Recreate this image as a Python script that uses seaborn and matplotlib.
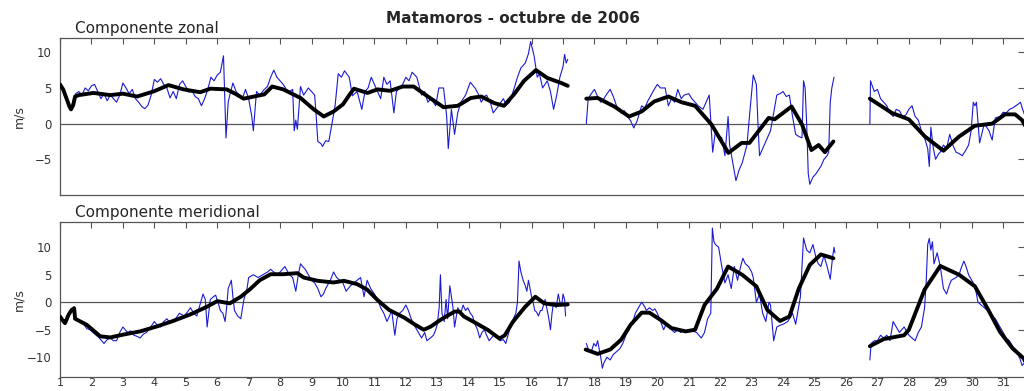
import numpy as np
import pandas as pd
import seaborn as sns
import matplotlib.pyplot as plt

# componente zonal (u), serie cruda
u_dia = [1.0, 1.1, 1.2, 1.3, 1.35, 1.4, 1.5, 1.6, 1.7, 1.8, 1.9, 2.0, 2.1, 2.2, 2.3, 2.4, 2.5, 2.6, 2.7, 2.8, 2.9,
         3.0, 3.1, 3.2, 3.3, 3.4, 3.5, 3.6, 3.7, 3.8, 3.9, 4.0, 4.1, 4.2, 4.3, 4.4, 4.5, 4.6, 4.7, 4.8, 4.9,
         5.0, 5.1, 5.2, 5.3, 5.4, 5.5, 5.6, 5.7, 5.8, 5.9, 6.0, 6.1, 6.2, 6.25, 6.28, 6.35, 6.4, 6.5, 6.6, 6.7,
         6.8, 6.9, 7.0, 7.1, 7.15, 7.25, 7.35, 7.5, 7.6, 7.7, 7.8, 7.9, 8.0, 8.1, 8.2, 8.3, 8.4, 8.45, 8.5, 8.55,
         8.65, 8.75, 8.9, 9.0, 9.1, 9.15, 9.2, 9.3, 9.35, 9.45, 9.55, 9.65, 9.75, 9.85, 9.95, 10.05, 10.2, 10.3,
         10.45, 10.6, 10.7, 10.8, 10.9, 11.05, 11.2, 11.3, 11.4, 11.5, 11.62, 11.7, 11.8, 11.9, 12.0, 12.1, 12.2,
         12.35, 12.5, 12.6, 12.7, 12.8, 12.95, 13.05, 13.2, 13.3, 13.35, 13.45, 13.55, 13.65, 13.75, 13.9, 14.05,
         14.2, 14.3, 14.4, 14.5, 14.57, 14.7, 14.78, 14.95, 15.1, 15.2, 15.3, 15.45, 15.55, 15.66, 15.8, 15.9,
         15.97, 16.08, 16.18, 16.25, 16.35, 16.5, 16.6, 16.7, 16.8, 16.9, 17.0, 17.05, 17.1, 17.15,
         17.74, 17.8, 17.9, 18.0, 18.1, 18.2, 18.3, 18.4, 18.5, 18.6, 18.7, 18.85, 18.95, 19.05, 19.15, 19.25,
         19.35, 19.5, 19.6, 19.7, 19.8, 19.9, 20.0, 20.1, 20.25, 20.35, 20.45, 20.55, 20.65, 20.76, 20.85, 21.0,
         21.1, 21.2, 21.3, 21.45, 21.55, 21.65, 21.76, 21.85, 21.9, 22.05, 22.15, 22.25, 22.3, 22.38, 22.5, 22.6,
         22.7, 22.85, 22.95, 23.05, 23.15, 23.2, 23.25, 23.35, 23.45, 23.6, 23.7, 23.8, 23.9, 24.0, 24.1, 24.2,
         24.3, 24.4, 24.5, 24.6, 24.65, 24.7, 24.75, 24.8, 24.85, 24.95, 25.05, 25.2, 25.3, 25.4, 25.45, 25.5,
         25.55, 25.62,
         26.76, 26.78, 26.9, 27.0, 27.1, 27.2, 27.3, 27.4, 27.5, 27.6, 27.7, 27.8, 27.9, 28.0, 28.1, 28.2, 28.3,
         28.4, 28.5, 28.6, 28.65, 28.7, 28.78, 28.85, 28.95, 29.0, 29.1, 29.2, 29.3, 29.4, 29.5, 29.6, 29.7, 29.8,
         29.9, 29.98, 30.05, 30.1, 30.15, 30.25, 30.4, 30.55, 30.65, 30.75, 30.9, 31.0, 31.1, 31.2, 31.3, 31.4,
         31.5, 31.55, 31.62, 31.7, 31.75]
u_val = [5.5, 4.8, 3.5, 2.2, 2.0, 3.0, 4.2, 4.5, 4.0, 5.0, 4.6, 5.3, 5.5, 4.5, 3.5, 4.2, 3.2, 4.0, 3.5, 3.0, 4.0,
         5.7, 5.0, 4.2, 4.8, 3.5, 3.0, 2.4, 2.1, 2.6, 4.0, 6.2, 5.8, 6.3, 5.5, 5.0, 3.6, 4.5, 3.5, 5.5, 6.0,
         5.2, 4.4, 4.6, 3.8, 3.5, 2.5, 3.5, 4.8, 6.5, 6.0, 6.8, 7.2, 9.5, 2.0, -2.0, 3.0, 4.0, 5.7, 4.5, 4.0,
         3.5, 4.8, 3.5, 1.0, -1.0, 4.5, 4.0, 4.8, 5.2, 6.5, 7.5, 6.5, 6.0, 5.5, 4.8, 4.5, 4.8, -1.0, 0.5, -0.8,
         5.2, 4.0, 5.0, 4.5, 4.0, 1.0, -2.5, -2.8, -3.2, -2.4, -2.5, 0.0, 2.5, 7.0, 6.5, 7.4, 6.5, 3.9,
         4.5, 2.0, 4.5, 5.0, 6.5, 5.0, 3.5, 6.5, 5.5, 6.0, 1.5, 4.5, 5.0, 5.5, 6.5, 6.0, 7.2,
         6.5, 4.0, 4.5, 3.0, 3.5, 2.5, 5.0, 5.0, 1.0, -3.5, 2.0, -1.5, 1.5, 3.0, 4.0, 5.8,
         5.0, 4.2, 3.0, 3.8, 4.0, 2.8, 1.5, 2.5, 3.5, 2.6, 3.0, 5.0, 6.5, 7.8, 8.5, 9.8,
         11.5, 9.5, 6.5, 7.0, 5.0, 6.0, 4.5, 2.0, 4.0, 6.5, 8.0, 9.7, 8.5, 9.0,
         0.0, 3.5, 4.2, 4.8, 3.8, 3.0, 3.5, 4.2, 4.8, 3.8, 2.5, 1.5, 1.8, 1.0, 0.4, -0.6,
         0.3, 2.5, 2.2, 3.2, 4.0, 4.8, 5.5, 5.0, 5.0, 2.5, 3.5, 3.0, 4.8, 3.5, 4.0, 4.2,
         3.5, 3.0, 2.5, 2.0, 3.0, 4.0, -4.0, -1.0, -1.5, -2.0, -4.5, 1.0, -3.0, -5.0, -8.0, -6.5,
         -5.5, -3.0, 2.0, 6.8, 5.5, 0.0, -4.5, -3.5, -2.5, -1.0, 1.5, 4.0, 4.2, 4.5, 3.8, 4.0,
         1.0, -1.5, -1.8, -2.0, 6.0, 5.0, 0.0, -7.0, -8.5, -7.5, -7.0, -6.0, -5.0, -4.5, -4.0, 3.0,
         5.0, 6.5,
         0.0, 6.0, 4.5, 4.8, 3.5, 3.0, 2.5, 1.5, 1.0, 2.0, 1.8, 1.0, 1.2, 2.0, 2.5, 1.0, 0.5,
         -1.0, -2.0, -3.5, -6.0, -0.5, -3.5, -5.0, -4.2, -4.0, -3.0, -3.5, -1.5, -3.0, -4.0, -4.2, -4.5, -3.8,
         -3.0, -1.0, 3.0, 2.5, 3.0, -2.7, 0.0, -1.0, -2.3, 0.8, 1.0, 1.6, 1.5, 2.0, 2.2, 2.5,
         2.8, 3.0, 2.0, 1.0, -0.5]

# componente zonal, serie filtrada
uf_dia = [1.0, 1.1, 1.2, 1.3, 1.35, 1.42, 1.48, 1.6, 2.06, 2.6, 3.0, 3.45, 3.97, 4.45, 4.93, 5.46, 5.78, 6.3,
          6.57, 6.84, 7.17, 7.5, 7.75, 8.1, 8.65, 9.07, 9.39, 9.7, 10.0, 10.2, 10.35, 10.78, 11.1, 11.5, 11.9,
          12.25, 12.7, 13.2, 13.65, 14.07, 14.4, 14.8, 15.12, 15.44, 15.76, 16.14, 16.5, 16.94, 17.15,
          17.74, 18.1, 18.63, 19.1, 19.5, 19.9, 20.35, 20.77, 21.2, 21.72, 22.26, 22.68, 22.93, 23.54, 23.73,
          24.27, 24.6, 24.9, 25.13, 25.33, 25.6,
          26.76, 27.46, 28.0, 28.51, 29.1, 29.6, 30.1, 30.65, 31.06, 31.38, 31.6, 31.7]
uf_val = [5.5, 4.8, 3.6, 2.4, 2.0, 2.6, 3.8, 4.0, 4.3, 4.0, 4.2, 3.8, 4.5, 5.4, 4.8, 4.4, 4.9, 4.8,
          4.2, 3.5, 3.8, 4.1, 5.2, 4.8, 3.6, 2.0, 1.0, 1.7, 2.7, 4.0, 4.9, 4.3, 4.8, 4.6, 5.2,
          5.2, 3.8, 2.3, 2.5, 3.6, 3.8, 2.9, 2.5, 4.1, 6.0, 7.5, 6.4, 5.7, 5.3,
          3.5, 3.6, 2.4, 1.0, 1.7, 3.1, 3.8, 3.0, 2.5, -0.1, -4.1, -2.7, -2.7, 0.8, 0.6,
          2.4, -0.1, -3.7, -3.0, -4.0, -2.5,
          3.5, 1.5, 0.6, -1.8, -3.8, -1.8, -0.3, 0.0, 1.3, 1.3, 0.5, -0.3]

# componente meridional (v), serie cruda
v_dia = [1.0, 1.1, 1.16, 1.27, 1.37, 1.45, 1.5, 1.6, 1.75, 1.85, 1.95, 2.05, 2.15, 2.25, 2.4, 2.5, 2.6, 2.7,
         2.8, 2.9, 3.0, 3.15, 3.25, 3.35, 3.45, 3.55, 3.65, 3.75, 3.85, 4.0, 4.1, 4.2, 4.3, 4.4, 4.5, 4.6, 4.7,
         4.8, 4.95, 5.05, 5.15, 5.25, 5.35, 5.45, 5.55, 5.62, 5.68, 5.78, 5.88, 5.95, 6.05, 6.1, 6.18, 6.25,
         6.3, 6.35, 6.45, 6.5, 6.55, 6.65, 6.75, 6.85, 6.95, 7.0, 7.15, 7.3, 7.45, 7.6, 7.7, 7.8, 7.9, 8.0,
         8.15, 8.3, 8.4, 8.5, 8.58, 8.65, 8.72, 8.8, 8.9, 9.0, 9.1, 9.2, 9.3, 9.38, 9.45, 9.55, 9.6, 9.7, 9.8,
         9.9, 10.0, 10.1, 10.24, 10.35, 10.45, 10.56, 10.67, 10.77, 10.88, 11.0, 11.1, 11.2, 11.3, 11.4, 11.48,
         11.55, 11.65, 11.72, 11.8, 11.9, 12.0, 12.08, 12.17, 12.25, 12.35, 12.45, 12.5, 12.6, 12.67, 12.78,
         12.88, 12.95, 13.0, 13.06, 13.1, 13.13, 13.15, 13.22, 13.28, 13.33, 13.4, 13.45, 13.5, 13.55, 13.65,
         13.75, 13.82, 13.9, 13.97, 14.05, 14.12, 14.2, 14.28, 14.35, 14.42, 14.5, 14.57, 14.65, 14.72, 14.8,
         14.9, 15.0, 15.1, 15.18, 15.25, 15.35, 15.42, 15.5, 15.55, 15.6, 15.66, 15.73, 15.8, 15.85, 15.9,
         15.95, 16.0, 16.05, 16.1, 16.16, 16.22, 16.28, 16.33, 16.43, 16.5, 16.55, 16.6, 16.65, 16.7, 16.78,
         16.85, 16.9, 16.96, 17.0, 17.05, 17.08,
         17.74, 17.8, 17.9, 17.98, 18.05, 18.1, 18.15, 18.2, 18.25, 18.3, 18.4, 18.5, 18.6, 18.7, 18.8, 18.9,
         19.0, 19.1, 19.15, 19.25, 19.3, 19.4, 19.5, 19.6, 19.65, 19.75, 19.85, 19.92, 20.0, 20.1, 20.2, 20.28,
         20.35, 20.45, 20.55, 20.65, 20.75, 20.85, 20.95, 21.05, 21.15, 21.25, 21.32, 21.4, 21.5, 21.6, 21.7,
         21.75, 21.8, 21.85, 21.95, 22.05, 22.15, 22.25, 22.35, 22.45, 22.55, 22.65, 22.72, 22.8, 22.9, 23.0,
         23.05, 23.15, 23.25, 23.35, 23.45, 23.55, 23.6, 23.7, 23.8, 23.9, 24.0, 24.15, 24.3, 24.4, 24.55,
         24.65, 24.75, 24.85, 24.95, 25.05, 25.12, 25.2, 25.3, 25.4, 25.5, 25.57, 25.62, 25.65,
         26.76, 26.8, 26.9, 27.0, 27.1, 27.2, 27.3, 27.4, 27.5, 27.6, 27.7, 27.85, 28.0, 28.1, 28.2, 28.3,
         28.4, 28.5, 28.55, 28.6, 28.65, 28.7, 28.75, 28.8, 28.9, 29.0, 29.1, 29.2, 29.28, 29.35, 29.5, 29.6,
         29.65, 29.75, 29.82, 29.9, 30.0, 30.1, 30.2, 30.3, 30.4, 30.5, 30.55, 30.65, 30.75, 30.85, 31.0,
         31.1, 31.2, 31.3, 31.45, 31.52, 31.6, 31.68, 31.75]
v_val = [-2.5, -3.5, -4.0, -2.3, -1.4, -0.8, -3.0, -3.2, -4.0, -4.8, -5.0, -5.5, -6.0, -6.5, -7.5, -6.8, -6.5, -7.0,
         -7.0, -5.5, -4.5, -5.5, -5.2, -6.0, -6.2, -6.5, -5.8, -5.5, -4.8, -3.5, -4.2, -4.5, -3.5, -3.0, -3.8, -3.5, -2.8,
         -2.0, -2.5, -1.8, -1.0, -2.0, -2.5, -0.5, 1.5, 0.5, -4.5, 0.5, 1.0, 1.3, -0.5, -1.5, -2.0, -3.5,
         -1.0, 2.5, 4.0, 1.0, -1.5, -2.5, -3.0, 0.5, 2.5, 4.5, 5.0, 4.5, 5.0, 5.5, 6.0, 5.5, 5.0, 5.5,
         6.5, 5.0, 4.5, 2.0, 5.0, 7.0, 6.5, 6.0, 5.0, 4.0, 3.5, 2.5, 1.0, 1.5, 2.5, 3.5, 4.0, 5.5, 4.5,
         4.0, 3.5, 2.0, 3.0, 3.5, 4.0, 4.5, 1.0, 4.0, 2.5, 1.5, 0.5, -1.0, -2.0, -3.5, -2.5,
         -1.5, -6.0, -3.0, -2.0, -1.5, -0.5, -1.5, -3.0, -4.0, -5.0, -6.0, -6.5, -5.5, -7.0, -6.5,
         -6.0, -5.0, -4.0, -1.0, 5.0, 1.0, -2.0, -3.5, 0.5, -3.0, 3.0, 1.0, -1.0, -4.5, -1.0,
         -2.0, -0.5, -1.5, -1.0, -2.0, -2.5, -4.0, -5.0, -6.5, -5.5, -5.0, -6.0, -7.0, -6.5, -6.0,
         -6.5, -7.0, -6.8, -7.5, -6.0, -4.0, -3.0, -2.0, 0.0, 7.5, 5.5, 4.0, 3.0, 2.0, 4.0,
         2.5, 1.0, 0.0, -1.5, -1.8, -2.5, -1.5, -1.5, 0.5, -1.5, -3.0, -5.0, -2.0, 0.0, -1.0,
         1.5, 0.0, -0.5, 1.5, 0.5, -2.5,
         -7.5, -8.5, -9.0, -7.5, -8.0, -7.0, -8.5, -10.0, -12.0, -11.0, -10.0, -10.5, -9.5, -9.0, -8.5, -7.5,
         -6.0, -5.0, -4.0, -3.0, -2.0, -1.0, 0.0, -0.8, -1.5, -1.0, -1.5, -1.2, -2.0, -3.5, -5.0, -4.0,
         -4.5, -5.0, -5.5, -5.0, -5.5, -5.0, -5.5, -5.0, -5.3, -5.5, -6.0, -6.5, -5.5, -3.0, -2.0,
         13.5, 11.0, 10.5, 10.0, 6.5, 3.5, 5.0, 2.5, 6.5, 4.0, 6.5, 8.0, 7.0, 6.5, 5.5,
         4.5, 0.0, 1.5, -2.0, -3.5, 0.0, -0.5, -7.0, -4.5, -4.2, -4.0, -3.5, -2.0, -4.0, 1.0,
         11.7, 9.5, 9.0, 10.5, 8.0, 7.0, 6.5, 8.5, 6.5, 4.2, 8.0, 10.0, 9.0,
         -10.5, -7.5, -7.0, -7.0, -6.0, -6.5, -6.0, -7.0, -3.5, -4.5, -5.5, -4.5, -6.0, -6.5, -7.0, -5.5,
         -4.5, -1.0, 3.5, 10.5, 11.6, 9.5, 11.0, 7.0, 9.0, 6.5, 2.5, 1.5, 3.0, 4.0, 4.5, 5.0,
         6.0, 7.5, 6.5, 5.0, 4.0, 3.0, 0.0, -0.5, -1.0, -1.5, -1.5, -2.5, -3.0, -4.0, -5.5,
         -6.5, -7.0, -8.0, -9.0, -10.0, -11.5, -11.0, -11.0]

# componente meridional, serie filtrada
vf_dia = [1.0, 1.1, 1.16, 1.22, 1.27, 1.37, 1.45, 1.48, 1.85, 2.28, 2.6, 3.0, 3.55, 4.08, 4.6, 5.15, 5.68, 6.0,
          6.4, 6.75, 7.05, 7.35, 7.7, 8.1, 8.55, 8.75, 9.2, 9.7, 10.03, 10.45, 10.77, 11.1, 11.47, 11.95, 12.3,
          12.57, 12.8, 13.1, 13.55, 13.7, 13.85, 14.2, 14.6, 14.98, 15.15, 15.4, 15.8, 16.12, 16.4, 16.77, 17.15,
          17.72, 18.1, 18.5, 18.85, 19.15, 19.5, 19.75, 20.1, 20.45, 20.9, 21.2, 21.5, 21.9, 22.25, 22.7, 23.15,
          23.5, 23.9, 24.2, 24.5, 24.85, 25.2, 25.6,
          26.76, 27.2, 27.85, 28.0, 28.5, 29.0, 29.6, 30.1, 30.5, 30.9, 31.3, 31.65, 31.72]
vf_val = [-2.6, -3.4, -3.8, -3.0, -2.3, -1.4, -1.1, -3.0, -4.1, -6.2, -6.4, -5.9, -5.3, -4.4, -3.4, -2.2, -0.8, 0.2,
          -0.2, 1.0, 2.4, 4.0, 5.1, 5.1, 5.3, 4.5, 3.9, 3.6, 3.9, 3.3, 2.3, 0.4, -1.4, -2.8, -4.1,
          -5.0, -4.4, -3.2, -1.7, -1.7, -2.6, -3.7, -5.0, -6.6, -6.0, -3.6, -0.8, 1.0, -0.2, -0.5, -0.4,
          -8.6, -9.4, -8.6, -6.8, -4.1, -1.9, -1.9, -3.2, -4.7, -5.3, -5.0, -0.5, 2.5, 6.5, 5.0, 2.9,
          -1.4, -3.4, -2.6, 2.5, 6.8, 8.7, 8.0,
          -8.0, -6.7, -6.0, -5.0, 2.3, 6.6, 5.0, 2.9, -1.1, -5.4, -8.4, -10.2, -11.0]

dias = list(range(1, 32))


def tabla(d, v):
    df = pd.DataFrame({"dia": d, "valor": v})
    # tramos separados por los huecos del registro
    df["tramo"] = np.digitize(df["dia"], [17.5, 26.2])
    return df


sns.set_style("white")
plt.rcParams["font.family"] = ["DejaVu Sans"]

gris = "#555555"
fig = plt.figure(figsize=(10.24, 3.91), dpi=100)
ax1 = fig.add_axes([0.0586, 0.5013, 0.945, 0.4015])
ax2 = fig.add_axes([0.0586, 0.0358, 0.945, 0.3964])

paneles = [(ax1, u_dia, u_val, uf_dia, uf_val, (-10, 12), [-5, 0, 5, 10], "Componente zonal"),
           (ax2, v_dia, v_val, vf_dia, vf_val, (-13.6, 14.6), [-10, -5, 0, 5, 10], "Componente meridional")]

for ax, d, v, df_, vf, lims, yt, nombre in paneles:
    ax.axhline(0, color=gris, lw=0.9, zorder=1)
    sns.lineplot(data=tabla(d, v), x="dia", y="valor", units="tramo", estimator=None,
                 color="#1a1ad6", lw=0.8, ax=ax, zorder=2)
    sns.lineplot(data=tabla(df_, vf), x="dia", y="valor", units="tramo", estimator=None,
                 color="black", lw=2.8, ax=ax, zorder=3)
    ax.set_xlim(1, 31.78)
    ax.set_ylim(*lims)
    ax.set_xticks(dias)
    ax.set_yticks(yt)
    ax.set_xlabel("")
    ax.set_ylabel("m/s", fontsize=9, color="#333333")
    ax.yaxis.set_label_coords(-0.036, 0.5)
    ax.tick_params(axis="x", direction="in", top=True, length=4, color=gris,
                   labelsize=8, labelcolor="#333333", pad=1)
    ax.tick_params(axis="y", direction="in", right=True, length=7, color=gris,
                   labelsize=8.5, labelcolor="#333333", pad=6)
    for s in ax.spines.values():
        s.set_color(gris)
        s.set_linewidth(0.9)
    ax.text(0.0155, 1.015, nombre, transform=ax.transAxes, fontsize=11, va="bottom", ha="left")

ax1.tick_params(axis="x", labelbottom=False)
fig.text(0.501, 0.952, "Matamoros - octubre de 2006", ha="center", va="center",
         fontsize=11, fontweight="bold")

fig.savefig("out.png", dpi=100)
